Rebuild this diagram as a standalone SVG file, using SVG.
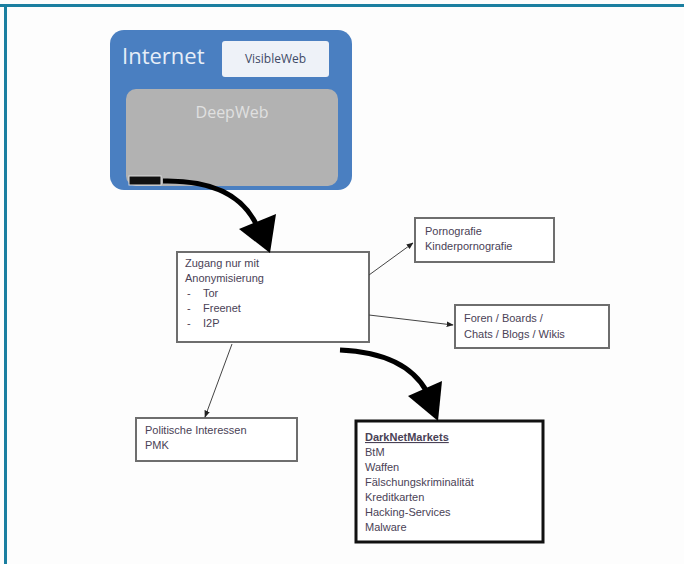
<svg xmlns="http://www.w3.org/2000/svg" width="684" height="564" viewBox="0 0 684 564">
<defs>
<style>
.t{font-family:"Liberation Sans",Arial,sans-serif;font-size:11px;fill:#4a4256}
.box{fill:#fff;stroke:#6e6e6e;stroke-width:2}
.thin{fill:none;stroke:#444;stroke-width:1}
.thick{fill:none;stroke:#000;stroke-width:5}
</style>
<marker id="ah" viewBox="0 0 10 10" refX="9" refY="5" markerWidth="7" markerHeight="7" orient="auto"><path d="M0,1 L10,5 L0,9 z" fill="#222"/></marker>
</defs>
<rect x="0" y="0" width="684" height="564" fill="#fdfdfd"/>
<rect x="0" y="4" width="684" height="3" fill="#1b7fa0"/>
<rect x="4" y="4" width="3" height="560" fill="#1b7fa0"/>

<g id="internet">
<rect x="110" y="30" width="242" height="160" rx="14" fill="#4a7fc1"/>
<text x="122" y="64" style="font-family:'Open Sans','Liberation Sans',sans-serif;font-size:22px;fill:#e6eef8">Internet</text>
<rect x="222" y="41" width="107" height="36" rx="3" fill="#eef2f8"/>
<text x="275.500" y="63" text-anchor="middle" style="font-family:'Open Sans','Liberation Sans',sans-serif;font-size:12px;fill:#3e4a66">VisibleWeb</text>
<rect id="deepweb" x="126" y="89" width="212" height="97" rx="10" fill="#b2b2b2"/>
<text x="232" y="118" text-anchor="middle" style="font-family:'Open Sans','Liberation Sans',sans-serif;font-size:16px;fill:#e0e0e0">DeepWeb</text>
<rect x="129" y="176" width="32" height="9" fill="#111" stroke="#ddd" stroke-width="1"/>
</g>

<g id="anonym">
<rect class="box" x="177" y="252" width="192" height="90"/>
<text class="t" x="185" y="267">Zugang nur mit</text>
<text class="t" x="185" y="282">Anonymisierung</text>
<text class="t" x="187" y="297">-</text><text class="t" x="203" y="297">Tor</text>
<text class="t" x="187" y="312">-</text><text class="t" x="203" y="312">Freenet</text>
<text class="t" x="187" y="327">-</text><text class="t" x="203" y="327">I2P</text>
</g>

<g id="porno">
<rect class="box" x="415" y="218" width="139" height="44"/>
<text class="t" x="425" y="235">Pornografie</text>
<text class="t" x="425" y="250">Kinderpornografie</text>
</g>

<g id="foren">
<rect class="box" x="455" y="305" width="154" height="43"/>
<text class="t" x="464" y="322">Foren / Boards /</text>
<text class="t" x="464" y="338">Chats / Blogs / Wikis</text>
</g>

<g id="politik">
<rect class="box" x="136" y="418" width="161" height="43"/>
<text class="t" x="145" y="434">Politische Interessen</text>
<text class="t" x="145" y="449">PMK</text>
</g>

<g id="darknet">
<rect x="356" y="421" width="187" height="121" fill="#fff" stroke="#111" stroke-width="3"/>
<text class="t" x="365" y="441" font-weight="bold" text-decoration="underline">DarkNetMarkets</text>
<text class="t" x="365" y="456">BtM</text>
<text class="t" x="365" y="471">Waffen</text>
<text class="t" x="365" y="486">Fälschungskriminalität</text>
<text class="t" x="365" y="501">Kreditkarten</text>
<text class="t" x="365" y="516">Hacking-Services</text>
<text class="t" x="365" y="531">Malware</text>
</g>

<g id="connectors">
<path class="thick" d="M163,181 C212,180 243,195 257,226"/>
<polygon points="239,229 276,214 270,253" fill="#000"/>
<path class="thick" d="M340,350 C385,352 413,366 427,392"/>
<polygon points="408,396 442,381 438,421" fill="#000"/>
<path class="thin" d="M369,275 L413,243" marker-end="url(#ah)"/>
<path class="thin" d="M369,315 L453,325" marker-end="url(#ah)"/>
<path class="thin" d="M232,344 L205,417" marker-end="url(#ah)"/>
</g>
</svg>
